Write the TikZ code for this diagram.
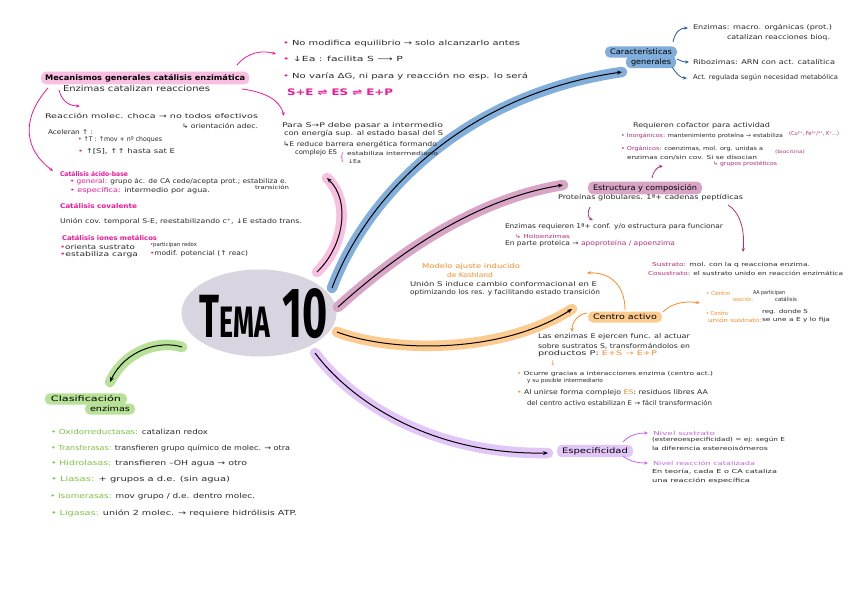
\documentclass[tikz,border=0pt]{standalone}
\usepackage{fontspec}
\usepackage{graphicx}
\usetikzlibrary{shapes.geometric,arrows.meta}
\newfontfamily\hand{DejaVu Sans}
\newfontfamily\titlefont{Fira Sans}
\definecolor{ink}{HTML}{2A2A2A}
\definecolor{mag}{HTML}{F0189A}
\definecolor{plum}{HTML}{B22F7C}
\definecolor{orng}{HTML}{FF8A2B}
\definecolor{purp}{HTML}{C765E6}
\definecolor{grn}{HTML}{7DC243}
\definecolor{dblue}{HTML}{2259A6}
\definecolor{pinkhl}{HTML}{F8BFE1}
\definecolor{bluehl}{HTML}{82AEDB}
\definecolor{mauvehl}{HTML}{D9A5C6}
\definecolor{orangehl}{HTML}{FCCB90}
\definecolor{purplehl}{HTML}{E3C6F8}
\definecolor{greenhl}{HTML}{B7E196}
\definecolor{ellgray}{HTML}{D8D4E0}
\newcommand\fw[2]{\resizebox{#1pt}{\height}{#2}}
\tikzset{
  txt/.style={anchor=west, inner sep=0pt, outer sep=0pt, text=ink, font=\hand\fontsize{6.5}{7}\selectfont},
  sm/.style={font=\hand\fontsize{5.5}{6}\selectfont},
  pill/.style={fill=#1, rounded corners=5pt, inner xsep=4pt, inner ysep=2.6pt, text=black, font=\hand\fontsize{7.5}{8}\selectfont},
  branch/.style={-{Stealth[length=5pt,width=4pt]}, line width=1pt, black, preaction={draw=#1, line width=10.5pt, line cap=round, arrows=-}},
  thinarr/.style={-{Stealth[length=4pt,width=3.2pt]}, line width=0.8pt, draw=#1},
}
\begin{document}
\begin{tikzpicture}[x=1pt,y=-1pt]
\useasboundingbox[fill=white] (0,0) rectangle (848,599);

% ---------- central node ----------
\node[ellipse, fill=ellgray, minimum width=155pt, minimum height=87pt, inner sep=0pt] (tema) at (259,313) {};
\node[anchor=base west, inner sep=0pt] (tematxt) at (199,337) {\fw{128}{\titlefont\bfseries\fontsize{61}{61}\selectfont T{\fontsize{44}{44}\selectfont EMA}\hspace{20pt}{\fontsize{71}{71}\selectfont 10}}};

% ---------- branches ----------
\coordinate (gBs) at (182,347); \coordinate (gBe) at (110,382);
\coordinate (pBs) at (317,272); \coordinate (pBe) at (327,178);
\coordinate (bBs) at (332,288); \coordinate (bBe) at (622,72);
\coordinate (mBs) at (338,307); \coordinate (mBe) at (563,185);
\coordinate (oBs) at (337,332); \coordinate (oBe) at (572,309);
\coordinate (uBs) at (315,353); \coordinate (uBe) at (548,453);
\draw[branch=greenhl] (gBs) .. controls (160,340) and (125,350) .. (gBe);
\draw[branch=pinkhl] (pBs) .. controls (345,245) and (350,200) .. (pBe);
\draw[branch=bluehl] (bBs) .. controls (365,200) and (460,95) .. (bBe);
\draw[branch=mauvehl] (mBs) .. controls (390,260) and (470,200) .. (mBe);
\draw[branch=orangehl] (oBs) .. controls (390,352) and (500,355) .. (oBe);
\draw[branch=purplehl] (uBs) .. controls (350,400) and (430,455) .. (uBe);

% ---------- left: mecanismos ----------
\node[pill=pinkhl, anchor=west] (mech) at (41,78) {\fw{200}{\bfseries Mecanismos generales catálisis enzimática}};
\node[txt, font=\hand\fontsize{8}{8}\selectfont] (enzcat) at (63,89) {\fw{147}{Enzimas catalizan reacciones}};
\node[txt] (reac) at (45,116) {\fw{213}{Reacción molec. choca → no todos efectivos}};
\node[txt] (orient) at (182,126) {\fw{76}{↳ orientación adec.}};
\node[txt] (acel) at (48,132) {\fw{45}{Aceleran ↑ :}};
\node[txt] (acel1) at (78,140) {\fw{84}{{\color{mag}•} ↑T : ↑mov + nº choques}};
\node[txt] (acel2) at (78,151) {\fw{97}{{\color{mag}•} ↑[S], ↑↑ hasta sat E}};
\coordinate (a1s) at (48,88); \coordinate (a1e) at (53,171);
\coordinate (a2s) at (59,90); \coordinate (a2e) at (80,106);
\draw[thinarr=mag] (a1s) .. controls (20,120) and (25,150) .. (a1e);
\draw[thinarr=mag] (a2s) .. controls (62,102) and (70,106) .. (a2e);

\node[txt, text=mag] (cab) at (60,174) {\fw{68}{\bfseries Catálisis ácido-base}};
\node[txt] (cab1) at (70,182) {\fw{217}{{\color{mag}• general:} grupo ác. de CA cede/acepta prot.; estabiliza e.}};
\node[txt, sm] (cab1b) at (255,187.5) {\fw{34}{transición}};
\node[txt] (cab2) at (70,191) {\fw{140}{{\color{mag}• específica:} intermedio por agua.}};
\node[txt, text=mag] (cc) at (60,206) {\fw{77}{\bfseries Catálisis covalente}};
\node[txt] (cc1) at (60,222) {\fw{242}{Unión cov. temporal S-E, reestabilizando c⁺, ↓E estado trans.}};
\node[txt, text=mag] (cim) at (62,238) {\fw{95}{\bfseries Catálisis iones metálicos}};
\node[txt] (cim1) at (60,247) {\fw{75}{{\color{mag}•}orienta sustrato}};
\node[txt, sm] (cim2) at (150,245) {\fw{47}{{\color{mag}•}participan redox}};
\node[txt] (cim3) at (60,255) {\fw{78}{{\color{mag}•}estabiliza carga}};
\node[txt] (cim4) at (150,254) {\fw{98}{{\color{mag}•}modif. potencial (↑ reac)}};

% ---------- top middle ----------
\node[txt, font=\hand\fontsize{7}{7}\selectfont] (nm1) at (283,44) {\fw{237}{{\color{mag}•} No modifica equilibrio → solo alcanzarlo antes}};
\node[txt, font=\hand\fontsize{7}{7}\selectfont] (nm2) at (283,59) {\fw{120}{{\color{mag}•} ↓Ea : facilita S ⟶ P}};
\node[txt, font=\hand\fontsize{7}{7}\selectfont] (nm3) at (283,76) {\fw{245}{{\color{mag}•} No varía ΔG, ni para y reacción no esp. lo será}};
\node[txt, text=mag, font=\hand\fontsize{9}{9}\selectfont] (eq) at (287,92) {\fw{106}{\bfseries S+E ⇌ ES ⇌ E+P}};
\coordinate (a3s) at (237,65); \coordinate (a3e) at (276,54);
\coordinate (a4s) at (242,89); \coordinate (a4e) at (284,116);
\draw[thinarr=mag] (a3s) .. controls (248,52) and (262,50) .. (a3e);
\draw[thinarr=mag] (a4s) .. controls (265,92) and (280,100) .. (a4e);

\node[txt] (para1) at (282,126) {\fw{161}{Para S→P debe pasar a intermedio}};
\node[txt] (para2) at (284,134) {\fw{159}{con energía sup. al estado basal del S}};
\node[txt] (para3) at (283,144.5) {\fw{154}{↳E reduce barrera energética formando}};
\node[txt] (para4) at (295,153) {\fw{42}{complejo ES}};
\node[txt, text=mag, font=\hand\fontsize{10}{10}\selectfont] (brace) at (340,157.5) {\fw{4}{\{}};
\node[txt, sm] (para5) at (347,153) {\fw{91}{estabiliza intermediario}};
\node[txt, sm] (para6) at (348,162) {\fw{13}{↓Ea}};

% ---------- top right ----------
\node[pill=bluehl, inner xsep=5pt] (car2) at (651,62) {\fw{40}{generales}};
\node[pill=bluehl, inner xsep=5pt] (car1) at (641,52) {\fw{62}{Características}};
\node[txt] (cara) at (693,28) {\fw{139}{Enzimas: macro. orgánicas (prot.)}};
\node[txt] (carb) at (727,38) {\fw{103}{catalizan reacciones bioq.}};
\node[txt] (carc) at (693,62) {\fw{142}{Ribozimas: ARN con act. catalítica}};
\node[txt] (card) at (693,78) {\fw{145}{Act. regulada según necesidad metabólica}};
\coordinate (b1s) at (673,42); \coordinate (b1e) at (688,28);
\coordinate (b2s) at (677,59); \coordinate (b2e) at (689,62);
\coordinate (b3s) at (672,67); \coordinate (b3e) at (687,78);
\draw[thinarr=dblue] (b1s) .. controls (675,32) and (680,28) .. (b1e);
\draw[thinarr=dblue] (b2s) .. controls (680,61) and (684,62) .. (b2e);
\draw[thinarr=dblue] (b3s) .. controls (676,73) and (680,78) .. (b3e);

% ---------- estructura ----------
\node[pill=mauvehl, inner xsep=5pt] (est) at (645,188) {\fw{104}{Estructura y composición}};
\node[txt] (est0) at (558,198) {\fw{185}{Proteínas globulares. 1ª+ cadenas peptídicas}};
\node[txt] (cof0) at (633,126) {\fw{137}{Requieren cofactor para actividad}};
\node[txt, sm] (cof1) at (621,136) {\fw{162}{{\color{plum}• Inorgánicos:} mantenimiento proteína → estabiliza}};
\node[txt, sm, text=plum] (cof1b) at (789,134) {\fw{50}{(Cu²⁺, Fe²⁺/³⁺, K⁺...)}};
\node[txt, sm] (cof2) at (621,149) {\fw{142}{{\color{plum}• Orgánicos:} coenzimas, mol. org. unidas a}};
\node[txt, sm] (cof3) at (627,158) {\fw{130}{enzimas con/sin cov. Si se disocian}};
\node[txt, text=plum, font=\hand\fontsize{4.5}{5}\selectfont] (cof4) at (775,152) {\fw{30}{(biocitina)}};
\node[txt, sm, text=plum] (cof5) at (713,164) {\fw{64}{↳ grupos prostéticos}};
\node[txt] (req1) at (505,227) {\fw{218}{Enzimas requieren 1ª+ conf. y/o estructura para funcionar}};
\node[txt, sm, text=plum] (req2) at (515,236) {\fw{55}{↳ Holoenzimas}};
\node[txt] (req3) at (505,244) {\fw{170}{En parte proteica → {\color{plum}apoproteína / apoenzima}}};
\node[txt, sm] (sus1) at (652,265) {\fw{158}{{\color{plum}Sustrato:} mol. con la q reacciona enzima.}};
\node[txt, sm] (sus2) at (648,273) {\fw{195}{{\color{plum}Cosustrato:} el sustrato unido en reacción enzimática}};
\coordinate (m1s) at (652,178); \coordinate (m1e) at (663,166);
\coordinate (m2s) at (590,207); \coordinate (m2e) at (593,220);
\coordinate (m3s) at (728,205); \coordinate (m3e) at (743,252);
\draw[thinarr=plum] (m1s) .. controls (653,172) and (657,167) .. (m1e);
\draw[thinarr=plum] (m2s) .. controls (587,212) and (588,218) .. (m2e);
\draw[thinarr=plum] (m3s) .. controls (740,212) and (745,230) .. (m3e);

% ---------- centro activo ----------
\node[txt, text=orng] (kosh1) at (422,267) {\fw{98}{Modelo ajuste inducido}};
\node[txt, text=orng] (kosh2) at (447,275) {\fw{46}{de Koshland}};
\node[txt] (kosh3) at (410,284) {\fw{187}{Unión S induce cambio conformacional en E}};
\node[txt] (kosh4) at (410,293) {\fw{190}{optimizando los res. y facilitando estado transición}};
\node[pill=orangehl, inner xsep=5pt] (ca) at (625,317) {\fw{64}{Centro activo}};
\node[txt, sm, text=orng] (cr1) at (706,293) {\fw{24}{• Centro}};
\node[txt, sm, text=orng] (cr2) at (733,299) {\fw{20}{reacción:}};
\node[txt, sm] (cr3) at (753,293) {\fw{32}{AA participan}};
\node[txt, sm] (cr4) at (775,299) {\fw{22}{catálisis}};
\node[txt, sm, text=orng] (cu1) at (706,313) {\fw{22}{• Centro}};
\node[txt, sm, text=orng] (cu2) at (708,320) {\fw{54}{unión sustrato:}};
\node[txt, sm] (cu3) at (762,312) {\fw{46}{reg. donde S}};
\node[txt, sm] (cu4) at (762,320) {\fw{68}{se une a E y lo fija}};
\node[txt] (ce1) at (538,337) {\fw{152}{Las enzimas E ejercen func. al actuar}};
\node[txt] (ce2) at (538,346) {\fw{152}{sobre sustratos S, transformándolos en}};
\node[txt] (ce3) at (538,354) {\fw{119}{productos P: {\color{orng}E+S → E+P}}};
\node[txt, text=orng] (ce4) at (550,363) {↓};
\node[txt, sm] (ce5) at (517,374) {\fw{196}{{\color{orng}•} Ocurre gracias a interacciones enzima (centro act.)}};
\node[txt, sm] (ce6) at (527,380.5) {\fw{76}{y su posible intermediario}};
\node[txt] (ce7) at (517,393) {\fw{191}{{\color{orng}•} Al unirse forma complejo {\color{orng}ES}: residuos libres AA}};
\node[txt] (ce8) at (527,403) {\fw{185}{del centro activo estabilizan E → fácil transformación}};
\coordinate (o1s) at (625,310); \coordinate (o1e) at (587,273);
\coordinate (o2s) at (587,313); \coordinate (o2e) at (572,332);
\coordinate (o3s) at (663,312); \coordinate (o3e) at (700,303);
\draw[thinarr=orng] (o1s) .. controls (625,285) and (610,272) .. (o1e);
\draw[thinarr=orng] (o2s) .. controls (578,314) and (572,322) .. (o2e);
\draw[thinarr=orng] (o3s) .. controls (672,302) and (688,301) .. (o3e);

% ---------- especificidad ----------
\node[pill=purplehl, inner xsep=5pt] (esp) at (595,451) {\fw{66}{Especificidad}};
\node[txt, sm, text=purp] (ns1) at (653,433) {\fw{62}{Nivel sustrato}};
\node[txt, sm] (ns2) at (652,440) {\fw{133}{(estereoespecificidad) = ej: según E}};
\node[txt, sm] (ns3) at (652,448) {\fw{116}{la diferencia estereoisómeros}};
\node[txt, sm, text=purp] (nr1) at (653,463) {\fw{102}{Nivel reacción catalizada}};
\node[txt, sm] (nr2) at (652,472) {\fw{125}{En teoría, cada E o CA cataliza}};
\node[txt, sm] (nr3) at (652,481) {\fw{98}{una reacción específica}};
\coordinate (u1s) at (623,442); \coordinate (u1e) at (648,433);
\coordinate (u2s) at (623,456); \coordinate (u2e) at (648,463);
\draw[thinarr=purp] (u1s) .. controls (630,434) and (640,433) .. (u1e);
\draw[thinarr=purp] (u2s) .. controls (630,462) and (640,463) .. (u2e);

% ---------- clasificacion ----------
\node[pill=greenhl, inner xsep=5pt] (cl2) at (110,409) {\fw{40}{enzimas}};
\node[pill=greenhl, inner xsep=6pt] (cl1) at (86,399) {\fw{70}{Clasificación}};
\node[txt, font=\hand\fontsize{7}{7}\selectfont] (k1) at (51,432) {\fw{157}{{\color{grn}• Oxidorreductasas:} catalizan redox}};
\node[txt, font=\hand\fontsize{7}{7}\selectfont] (k2) at (51,448) {\fw{239}{{\color{grn}• Transferasas:} transfieren grupo químico de molec. → otra}};
\node[txt, font=\hand\fontsize{7}{7}\selectfont] (k3) at (51,464) {\fw{196}{{\color{grn}• Hidrolasas:} transfieren –OH agua → otro}};
\node[txt, font=\hand\fontsize{7}{7}\selectfont] (k4) at (51,480) {\fw{179}{{\color{grn}• Liasas:} + grupos a d.e. (sin agua)}};
\node[txt, font=\hand\fontsize{7}{7}\selectfont] (k5) at (50,497) {\fw{205}{{\color{grn}• Isomerasas:} mov grupo / d.e. dentro molec.}};
\node[txt, font=\hand\fontsize{7}{7}\selectfont] (k6) at (51,513) {\fw{246}{{\color{grn}• Ligasas:} unión 2 molec. → requiere hidrólisis ATP.}};
\end{tikzpicture}
\end{document}
